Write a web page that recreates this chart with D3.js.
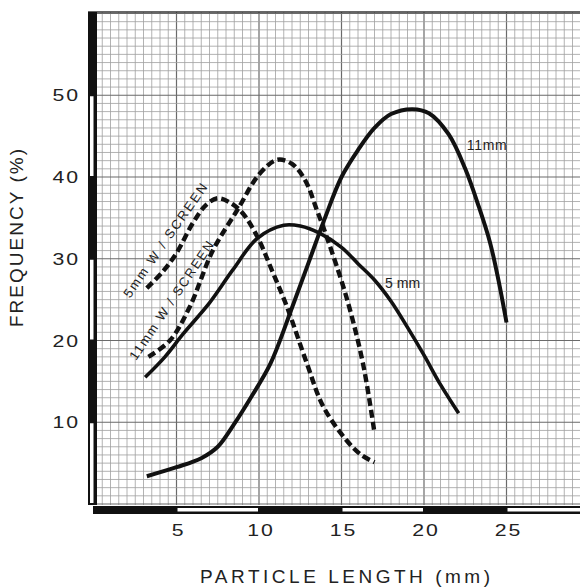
<!DOCTYPE html>
<html>
<head>
<meta charset="utf-8">
<style>
  body { margin: 0; background: #fff; }
  text { font-family: "Liberation Sans", Arial, sans-serif; fill: #222; }
  .tick-label { font-size: 17px; letter-spacing: 1.5px; }
  .axis-title { font-size: 19px; }
  .note { font-size: 14px; }
  .note-rot { font-size: 13px; }
</style>
<script src="https://d3js.org/d3.v7.min.js"></script>
</head>
<body>
<svg width="580" height="587"></svg>
<script>
// values: [particle length mm, frequency %]
var solid11mm = [[3.2,3.4],[5,4.5],[6.5,5.6],[7.5,7],[8.5,9.8],[9.5,13],[10.7,17.2],[12,24],[13,29.5],[14,35],[15,40],[16,43.3],[17,46],[18,47.7],[19.3,48.3],[20.3,47.8],[21.5,45.2],[22.5,41],[23.3,36.5],[24,32],[24.5,27.5],[25,22.2]];
var solid5mm = [[3.1,15.5],[4.3,18],[5.4,20.8],[7,24.6],[8.4,28.6],[9.9,32.5],[11.5,34.1],[12.5,34],[13.7,33.1],[15,31.4],[16,29.4],[17,27.4],[18,24.8],[19,21.6],[20,18.2],[21,14.6],[22.1,11.1]];
var screen5mm = [[3.2,26.4],[4.2,28.5],[5,30.7],[6,34.4],[6.8,36.6],[7.5,37.4],[8.3,36.8],[9,35.6],[9.9,32.7],[10.8,28.5],[11.7,24.1],[12.9,17.2],[13.9,11.9],[15.3,7.8],[16.2,6],[17,5.1]];
var screen11mm = [[3.3,18],[4.6,20],[5.8,24.1],[7.2,31],[8.7,36],[10,40.3],[11.1,42.1],[12,41.6],[12.8,39.6],[13.5,36],[14.1,32.7],[15.3,25.3],[16.3,17.2],[17,8.7]];

var xTicks = [5, 10, 15, 20, 25];
var yTicks = [10, 20, 30, 40, 50];
var xBands = [0, 5, 10, 15, 20, 25];   // alternating black / white scale bar
var yBands = [0, 10, 20, 30, 40, 50];

var svg = d3.select("svg");
var x = d3.scaleLinear().domain([0, 30]).range([94, 589]);
var y = d3.scaleLinear().domain([0, 60]).range([504, 13.5]);

var plotLeft = 96, plotRight = 580, plotTop = 12, plotBottom = 505;

svg.append("clipPath").attr("id", "plot")
  .append("rect").attr("x", plotLeft).attr("y", plotTop)
  .attr("width", plotRight - plotLeft).attr("height", plotBottom - plotTop);

// graph paper
var grid = svg.append("g").attr("clip-path", "url(#plot)");
grid.selectAll(".vx").data(d3.range(0, 30.01, 0.5)).enter().append("line")
  .attr("x1", function(d) { return x(d); }).attr("x2", function(d) { return x(d); })
  .attr("y1", plotTop).attr("y2", plotBottom)
  .attr("stroke", function(d) { return d % 5 === 0 ? "#6a6a6a" : "#a0a0a0"; })
  .attr("stroke-width", function(d) { return d % 5 === 0 ? 1.2 : 0.8; });
grid.selectAll(".hy").data(d3.range(0, 60.01, 1)).enter().append("line")
  .attr("x1", plotLeft).attr("x2", plotRight)
  .attr("y1", function(d) { return y(d); }).attr("y2", function(d) { return y(d); })
  .attr("stroke", function(d) { return d % 10 === 0 ? "#6a6a6a" : "#a0a0a0"; })
  .attr("stroke-width", function(d) { return d % 10 === 0 ? 1.2 : 0.8; });

// frame
svg.append("line").attr("x1", 88).attr("x2", 580).attr("y1", plotTop).attr("y2", plotTop)
  .attr("stroke", "#333").attr("stroke-width", 1.5);

// left scale bar
svg.append("rect").attr("x", 88).attr("y", plotTop).attr("width", 9)
  .attr("height", plotBottom - plotTop).attr("fill", "#111");
svg.selectAll(".yband").data(yBands.filter(function(d, i) { return i % 2 === 0; }))
  .enter().append("rect")
  .attr("x", 90).attr("width", 3.5)
  .attr("y", function(d) { return y(d + 10) + 1; })
  .attr("height", function(d) { return y(d) - y(d + 10) - 2; })
  .attr("fill", "#fff");

// bottom scale bar
svg.append("rect").attr("x", 93).attr("y", 506).attr("width", 580 - 93)
  .attr("height", 8).attr("fill", "#111");
svg.selectAll(".xband").data(xBands.filter(function(d, i) { return i % 2 === 1; }))
  .enter().append("rect")
  .attr("x", function(d) { return x(d) + 1; })
  .attr("width", function(d) { return x(d + 5) - x(d) - 2; })
  .attr("y", 508).attr("height", 3.5)
  .attr("fill", "#fff");

// tick labels (the original lettering is wide, so stretch horizontally)
svg.selectAll(".ylab").data(yTicks).enter().append("text")
  .attr("class", "tick-label")
  .attr("transform", function(d) { return "translate(80," + (y(d) + 6) + ") scale(1.25,1)"; })
  .attr("text-anchor", "end")
  .text(function(d) { return d; });
svg.selectAll(".xlab").data(xTicks).enter().append("text")
  .attr("class", "tick-label")
  .attr("transform", function(d) { return "translate(" + (x(d) + 2) + ",536) scale(1.25,1)"; })
  .attr("text-anchor", "middle")
  .text(function(d) { return d; });

// axis titles
svg.append("text").attr("class", "axis-title")
  .attr("x", 200).attr("y", 583)
  .attr("textLength", 290).attr("lengthAdjust", "spacing")
  .text("PARTICLE  LENGTH  (mm)");
svg.append("text").attr("class", "axis-title")
  .attr("transform", "translate(23,327) rotate(-90)")
  .attr("textLength", 178).attr("lengthAdjust", "spacing")
  .text("FREQUENCY  (%)");

// curves
var line = d3.line()
  .x(function(d) { return x(d[0]); })
  .y(function(d) { return y(d[1]); })
  .curve(d3.curveCatmullRom.alpha(0.5));

var curves = svg.append("g").attr("clip-path", "url(#plot)").attr("fill", "none").attr("stroke", "#111");
curves.append("path").datum(solid11mm).attr("d", line).attr("stroke-width", 4);
curves.append("path").datum(solid5mm).attr("d", line).attr("stroke-width", 3.6);
curves.append("path").datum(screen5mm).attr("d", line).attr("stroke-width", 4.4)
  .attr("stroke-dasharray", "8,4");
curves.append("path").datum(screen11mm).attr("d", line).attr("stroke-width", 4.4)
  .attr("stroke-dasharray", "8,4");

// curve labels
svg.append("text").attr("class", "note").attr("text-anchor", "middle")
  .attr("x", x(23.8)).attr("y", y(43.9) + 5)
  .attr("textLength", 40).attr("lengthAdjust", "spacing").text("11mm");
svg.append("text").attr("class", "note").attr("text-anchor", "middle")
  .attr("x", x(18.7)).attr("y", y(27.0) + 5).text("5 mm");
svg.append("text").attr("class", "note-rot").attr("text-anchor", "middle")
  .attr("transform", "translate(" + (x(4.42) + 2) + "," + (y(32.3) + 3) + ") rotate(-55)")
  .attr("textLength", 136).attr("lengthAdjust", "spacing")
  .text("5mm  W / SCREEN");
svg.append("text").attr("class", "note-rot").attr("text-anchor", "middle")
  .attr("transform", "translate(" + (x(4.8) + 2) + "," + (y(24.95) + 3) + ") rotate(-56)")
  .attr("textLength", 140).attr("lengthAdjust", "spacing")
  .text("11mm  W / SCREEN");
</script>
</body>
</html>
